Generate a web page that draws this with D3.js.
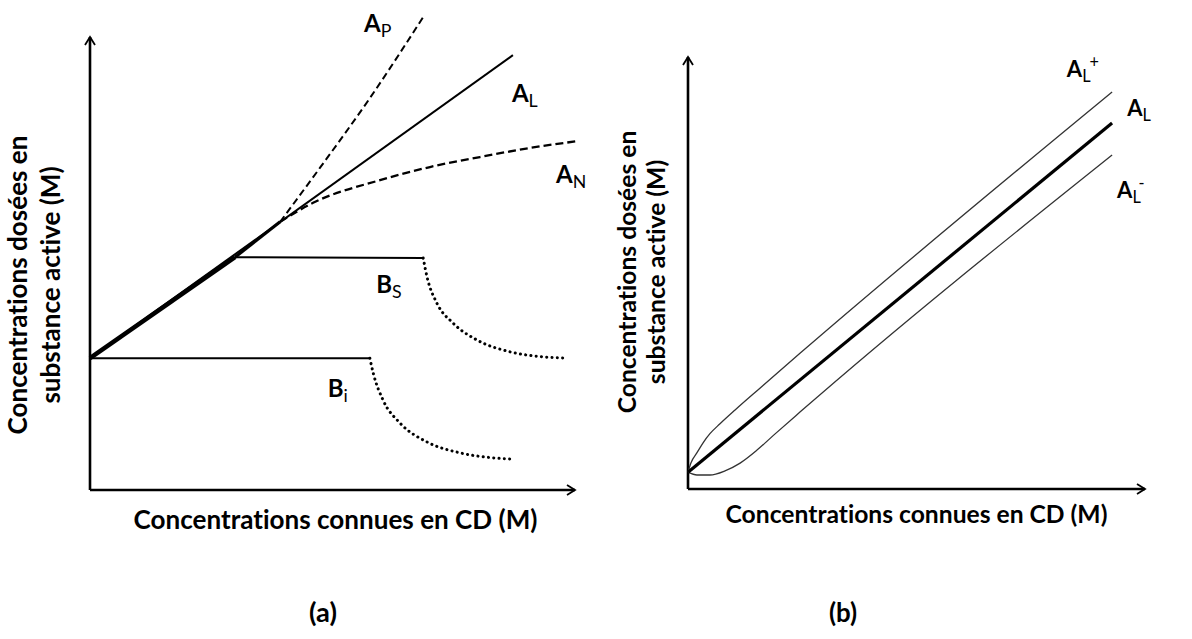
<!DOCTYPE html>
<html><head><meta charset="utf-8">
<script src="https://cdn.jsdelivr.net/npm/d3@7"></script>
<style>
body{margin:0;background:#fff}
svg{display:block}
text{font-family:Lato,'Open Sans',sans-serif;font-weight:700;fill:#000;font-variant-ligatures:none;font-feature-settings:"liga" 0,"clig" 0}
</style>
</head><body>
<svg id="c" width="1192" height="639"></svg>
<script>
// ---------- DATA (schematic values) ----------
// Panel (a)
const aLinear      = [[0,29.1],[87.2,96.0]];
const aShared      = [[0,29.1],[29.9,51.4]];
const aSharedMid   = [[29.9,51.4],[39.2,59.2]];
const aPositive    = [[39.2,59.2],[47.4,71.1],[57.7,86.5],[68.7,104.4]];
const aNegative    = [[39.2,59.2],[46.0,63.4],[59.8,68.4],[70.1,71.3],[80.4,73.5],[90.7,75.5],[100.4,77.0]];
const bsPlateau    = [[29.9,51.4],[68.7,51.2]];
const bsDrop       = [[68.7,51.2],[69.5,47.0],[71.5,41.3],[74.8,36.9],[79.8,33.1],[86.6,30.5],[93.4,29.4],[98.4,29.1]];
const biPlateau    = [[0,29.1],[57.7,29.1]];
const biDrop       = [[57.7,29.1],[58.4,25.8],[60.4,19.9],[63.9,14.8],[69.5,10.6],[76.3,8.2],[83.1,7.1],[87.2,6.8]];
// Panel (b)
const bLinear      = [[0,3.9],[92.8,84.7]];
const bUpper       = [[0,3.9],[0.66,6.1],[1.97,8.4],[3.3,10.7],[4.8,12.8],[7.0,15.1],[10.3,18.3],[15.8,23.4],[24.5,31.4],[92.8,91.9]];
const bLower       = [[0,3.9],[1.97,3.24],[4.8,3.24],[8.1,4.2],[11.4,6.0],[15.1,9.0],[19.0,12.7],[24.5,17.8],[92.8,77.3]];

const xTitle = "Concentrations connues en CD (M)";
const yTitle = ["Concentrations dosées en","substance active (M)"];
const panelTags = ["(a)","(b)"];
const labelsA = [["A","P",""],["A","L",""],["A","N",""],["B","S",""],["B","i",""]];
const labelsB = [["A","L","+"],["A","L",""],["A","L","-"]];

// ---------- LAYOUT ----------
const svg = d3.select("#c");
const defs = svg.append("defs");
defs.append("marker").attr("id","arr").attr("viewBox","-9 -6 11 12")
  .attr("markerWidth",11).attr("markerHeight",12).attr("markerUnits","userSpaceOnUse")
  .attr("orient","auto").attr("refX",0).attr("refY",0)
  .append("path").attr("d","M-8,-5 L0,0 L-8,5").attr("fill","none").attr("stroke","#000").attr("stroke-width",1.8);

function fitSize(text, target){
  const t = svg.append("text").style("font-size","20px").text(text);
  const w = t.node().getComputedTextLength(); t.remove();
  return 20*target/w;
}

function panel(cfg){
  const g = svg.append("g");
  const x = d3.scaleLinear().domain([0,100]).range([cfg.x0,cfg.x1]);
  const y = d3.scaleLinear().domain([0,100]).range([cfg.y0,cfg.y1]);
  const ax = g.append("g").attr("transform",`translate(0,${cfg.y0})`).call(d3.axisBottom(x).ticks(0).tickSizeOuter(0));
  const ay = g.append("g").attr("transform",`translate(${cfg.x0},0)`).call(d3.axisLeft(y).ticks(0).tickSizeOuter(0));
  [ax,ay].forEach(a=>a.select(".domain").attr("stroke","#000").attr("stroke-width",cfg.axisW).attr("marker-end","url(#arr)"));
  ay.select(".domain").attr("d",`M0,${y(0)}V${y(100)}`);
  ax.select(".domain").attr("d",`M${x(0)},0H${x(100)}`);
  const line = d3.line().x(d=>x(d[0])).y(d=>y(d[1])).curve(d3.curveMonotoneX);
  cfg.series.forEach(s=>{
    g.append("path").datum(s.d).attr("d",line).attr("fill","none")
      .attr("stroke",s.c||"#000").attr("stroke-width",s.w)
      .attr("stroke-dasharray",s.dash||null).attr("stroke-linecap",s.cap||"butt");
  });
  const fs = fitSize(xTitle, cfg.titleW);
  g.append("text").attr("x",(cfg.x0+cfg.x1)/2+cfg.titleDx).attr("y",cfg.titleY).attr("text-anchor","middle")
    .style("font-size",fs+"px").text(xTitle);
  yTitle.forEach((t,i)=>{
    g.append("text").attr("transform",`translate(${cfg.ytX[i]},${cfg.ytY}) rotate(-90)`)
      .attr("text-anchor","middle").style("font-size",fs+"px").text(t);
  });
  g.append("text").attr("x",cfg.tagX).attr("y",cfg.tagY).attr("text-anchor","middle").style("font-size",(fs*1.05)+"px").text(cfg.tag);
  cfg.labels.forEach((l,i)=>{
    const p = cfg.labelPos[i];
    const t = g.append("text").attr("x",x(p[0])).attr("y",y(p[1])).style("font-size",cfg.labFs+"px");
    t.append("tspan").text(l[0]);
    if(l[1]) t.append("tspan").attr("dy",cfg.labFs*0.22).style("font-size",(cfg.labFs*0.74)+"px").style("font-weight",400).text(l[1]);
    if(l[2]) t.append("tspan").attr("dy",-cfg.labFs*0.62).attr("dx",-1).style("font-size",(cfg.labFs*0.74)+"px").style("font-weight",400).text(l[2]);
  });
}

panel({
  x0:90,x1:575,y0:490,y1:37,axisW:2.6,
  series:[
    {d:aLinear,w:2},
    {d:aShared,w:4.4},
    {d:aSharedMid,w:3.2},
    {d:aPositive,w:2,dash:"7,4"},
    {d:aNegative,w:2.3,dash:"8,4"},
    {d:bsPlateau,w:2},
    {d:bsDrop,w:3,dash:"0.1,5.2",cap:"round"},
    {d:biPlateau,w:2},
    {d:biDrop,w:3,dash:"0.1,5.2",cap:"round"}
  ],
  titleW:404,titleY:529,titleDx:3,
  ytX:[27,60],ytY:285,
  tag:panelTags[0],tagX:323,tagY:622,
  labels:labelsA,
  labelPos:[[56.5,101.1],[87.0,85.7],[96.1,67.8],[59.0,43.5],[49.0,20.5]],
  labFs:24
});
panel({
  x0:688,x1:1145,y0:489,y1:57,axisW:2.6,
  series:[
    {d:bUpper,w:1.3,c:"#333"},
    {d:bLower,w:1.3,c:"#333"},
    {d:bLinear,w:3.2}
  ],
  titleW:382,titleY:523,titleDx:0,
  ytX:[636,665],ytY:272,
  tag:panelTags[1],tagX:843,tagY:622,
  labels:labelsB,
  labelPos:[[82.9,95.4],[96.1,86.3],[93.9,67.4]],
  labFs:22
});
</script>
</body></html>
